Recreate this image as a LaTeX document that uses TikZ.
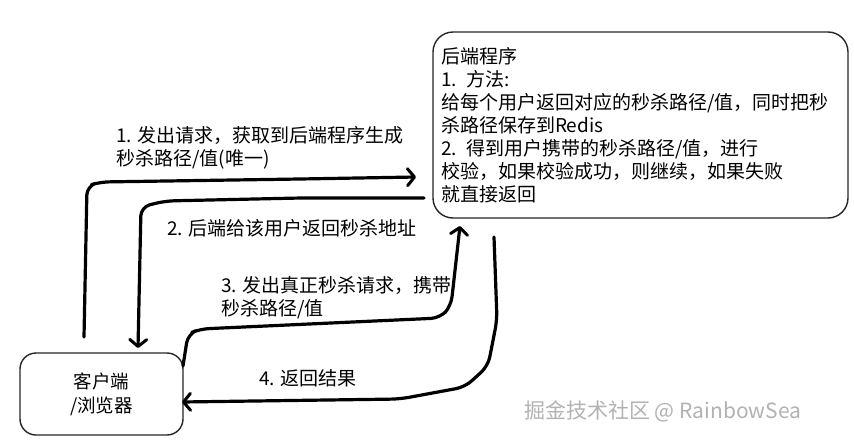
\documentclass[tikz,border=0pt]{standalone}
\usepackage{fontspec}
\setmainfont{Noto Sans CJK SC}
\usetikzlibrary{arrows.meta,calc}
\tikzset{
  boxstyle/.style={draw=black!85, line width=1.4pt},
  flow/.style={line width=3.2pt, line cap=round, line join=round, rounded corners=9pt,
     -{Straight Barb[length=7pt,width=17pt,line width=3pt,round]}},
  lbl/.style={font=\fontsize{19}{23}\selectfont, align=left, anchor=west, inner sep=0pt},
  wm/.style={font=\fontsize{21}{24}\selectfont, anchor=west, inner sep=0pt}
}
\begin{document}
\begin{tikzpicture}[x=1pt,y=-1pt]
\useasboundingbox (0,0) rectangle (854,442);
\fill[white] (0,0) rectangle (854,442);

% watermark
\node[wm, text=black!30] (wmj) at (524,411) {掘金技术社区 @ RainbowSea};

% boxes
\node[boxstyle, rounded corners=20pt, minimum width=415pt, minimum height=186pt,
      text width=399pt, inner xsep=8pt, align=left,
      font=\fontsize{19}{23}\selectfont] (back) at (640.5,125)
 {后端程序\\
  1. 方法:\\
  给每个用户返回对应的秒杀路径/值，同时把秒\\
  杀路径保存到Redis\\
  2. 得到用户携带的秒杀路径/值，进行\\
  校验，如果校验成功，则继续，如果失败\\
  就直接返回};

\node[boxstyle, rounded corners=16pt, minimum width=163pt, minimum height=82pt,
      align=center, font=\fontsize{18.5}{24}\selectfont] (client) at (101.5,394)
 {客户端\\/浏览器};

% connector ends
\coordinate (s1) at (84,337);
\coordinate (e1) at (416,177);
\coordinate (s2) at (424,198);
\coordinate (e2) at (138,348);
\coordinate (s3) at (183,366);
\coordinate (e3) at (460,226);
\coordinate (s4) at (494,237);
\coordinate (e4) at (182,402);

\draw[flow] (s1) -- (87,186) -- (100,182) -- (300,179) -- (e1);
\draw[flow] (s2) -- (300,198) -- (165,201) -- (141,207) -- (e2);
\draw[flow] (s3) -- (188,334) -- (200,329) -- (440,318) -- (451,306) -- (e3);
\draw[flow] (s4) -- (497,320) -- (488,366) -- (465,387) -- (400,399) -- (e4);

% labels
\node[lbl] (l1) at (116,148) {1. 发出请求，获取到后端程序生成\\秒杀路径/值(唯一)};
\node[lbl] (l2) at (167,228) {2. 后端给该用户返回秒杀地址};
\node[lbl] (l3) at (221,298) {3. 发出真正秒杀请求，携带\\秒杀路径/值};
\node[lbl] (l4) at (259,378) {4. 返回结果};
\end{tikzpicture}
\end{document}
